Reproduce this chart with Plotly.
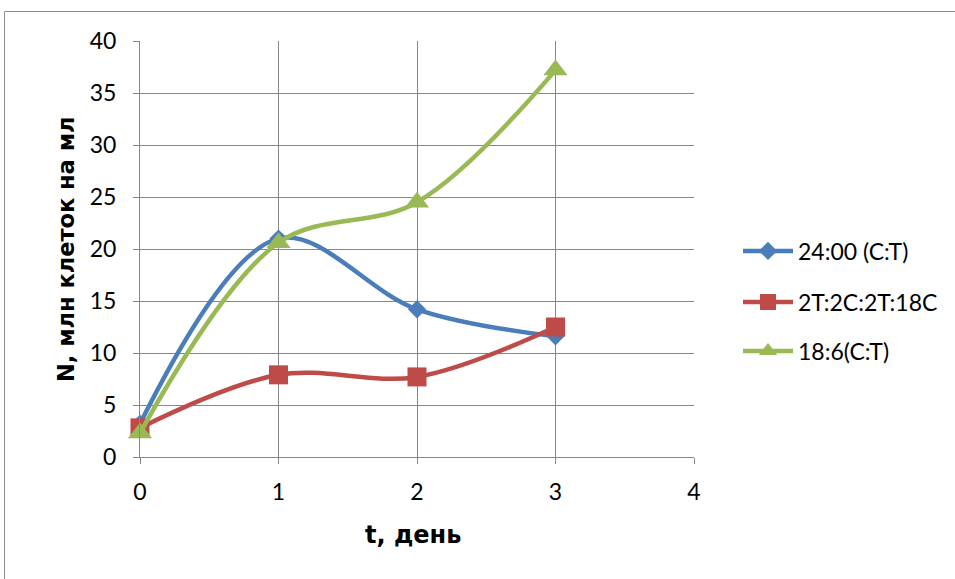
import plotly.graph_objects as go

# Cell density over time for three light regimes
days = [0, 1, 2, 3]
series_names = ["24:00 (C:T)", "2T:2C:2T:18C", "18:6(C:T)"]
continuous_light = [3.2, 21.0, 14.2, 11.6]
pulsed_light = [2.8, 7.9, 7.7, 12.5]
light_18_6 = [2.3, 20.6, 24.5, 37.2]

x_ticks = [0, 1, 2, 3, 4]
y_ticks = [0, 5, 10, 15, 20, 25, 30, 35, 40]

colors = ["#4A7EBB", "#BE4B48", "#98B954"]
symbols = ["diamond", "square", "triangle-up"]
marker_sizes = [14, 19, 21]
values = [continuous_light, pulsed_light, light_18_6]
legend_ids = ["legend", "legend2", "legend3"]

W, H = 955, 579
L, R, T, B = 140, 261, 41, 122
pw, ph = W - L - R, H - T - B


def px_x(p):
    return (p - L) / pw


def px_y(p):
    return (H - B - p) / ph


fig = go.Figure()
for name, ys, c, s, ms, lg in zip(series_names, values, colors, symbols, marker_sizes, legend_ids):
    fig.add_trace(go.Scatter(
        x=days, y=ys, name=name, mode="lines+markers",
        line=dict(color=c, width=4.5, shape="spline", smoothing=1),
        marker=dict(symbol=s, size=ms, color=c),
        cliponaxis=False, legend=lg,
    ))

grid = "#878787"
font = "Lato, 'Open Sans', sans-serif"
title_font = "'DejaVu Sans', sans-serif"
tick_size = 23

legend_rows = [251, 302, 351]
legend_common = dict(
    xanchor="left", yanchor="middle", x=px_x(738),
    font=dict(family=font, size=tick_size, color="#000"),
    bgcolor="rgba(0,0,0,0)", itemwidth=50,
)

fig.update_layout(
    width=W, height=H,
    margin=dict(l=L, r=R, t=T, b=B),
    paper_bgcolor="white", plot_bgcolor="white",
    font=dict(family=font, size=tick_size, color="#000"),
    showlegend=True,
    legend=dict(**legend_common, y=px_y(legend_rows[0])),
    legend2=dict(**legend_common, y=px_y(legend_rows[1])),
    legend3=dict(**legend_common, y=px_y(legend_rows[2])),
    xaxis=dict(
        range=[0, 4], tickvals=x_ticks, showgrid=True, gridcolor=grid, gridwidth=1,
        zeroline=False, showline=True, linecolor=grid, linewidth=1,
        ticks="outside", ticklen=6, tickcolor=grid, ticklabelstandoff=8,
        tickfont=dict(family=font, size=tick_size), fixedrange=True,
    ),
    yaxis=dict(
        range=[0, 40], tickvals=y_ticks, showgrid=True, gridcolor=grid, gridwidth=1,
        zeroline=False, showline=True, linecolor=grid, linewidth=1,
        ticks="outside", ticklen=6, tickcolor=grid, ticklabelstandoff=12,
        tickfont=dict(family=font, size=tick_size), fixedrange=True,
    ),
    annotations=[
        dict(text="<b>t, день</b>", xref="paper", yref="paper",
             x=px_x(413), y=px_y(535), xanchor="center", yanchor="middle",
             showarrow=False, font=dict(family=title_font, size=24, color="#000")),
        dict(text="<b>N, млн клеток на мл</b>", xref="paper", yref="paper",
             x=px_x(66), y=px_y(249), xanchor="center", yanchor="middle",
             textangle=-90, showarrow=False,
             font=dict(family=title_font, size=22.5, color="#000")),
    ],
    shapes=[
        dict(type="rect", xref="paper", yref="paper",
             x0=px_x(4.5), y0=px_y(H + 20), x1=px_x(W + 20), y1=px_y(11.5),
             line=dict(color="#8C8C8C", width=1), fillcolor="rgba(0,0,0,0)",
             layer="below"),
    ],
)

fig.write_html("out.html")
